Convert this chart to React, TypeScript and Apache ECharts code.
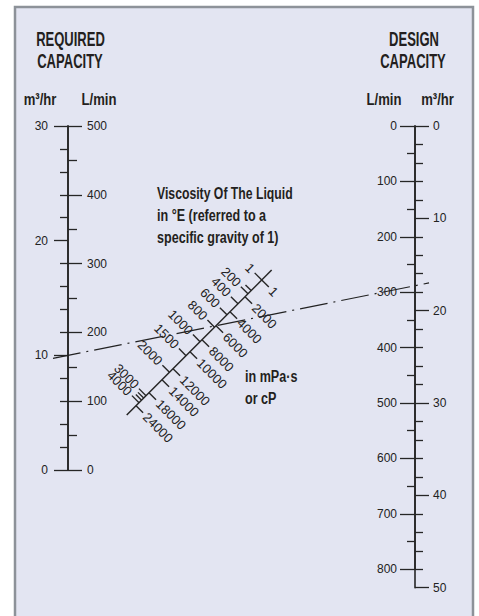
import React, { useEffect, useRef } from "react";
import * as echarts from "echarts";

// ---- data ----
const reqM3Range = [0, 30];
const reqLminRange = [0, 500];
const desM3Range = [0, 50];
const desLminRange = [0, 800];
const reqM3Interval = 10;
const reqLminInterval = 100;
const desM3Interval = 10;
const desLminInterval = 100;

// isopleth reading: required 10 m3/hr -> design ~17.3 m3/hr
const isoRequiredM3 = 10;
const isoDesignM3 = 17.3;

// viscosity scale (positions along the diagonal scale, bottom = 0)
const viscScaleLength = 205;
const degELabels = ["1", "200", "400", "600", "800", "1000", "1500", "2000", "3000", "4000"];
const degEPos = [191, 171.5, 157.4, 141.8, 124.2, 103.7, 83.9, 60.5, 27.3, 17.4];
const degEMinorPos = [176, 21, 24];
const mpasLabels = ["1", "2000", "4000", "6000", "8000", "10000", "12000", "14000", "18000", "24000"];
const mpasPos = [191, 167.3, 146.1, 126.3, 106.5, 89.5, 65.5, 49.9, 31.5, 13.2];

// ---- styles / layout ----
const FONT = "'Liberation Sans', Arial, Helvetica, sans-serif";
const AX = "#262626";
const TXT = "#231f20";
const LEFT_X = 68;
const RIGHT_X = 415;
const TOP_Y = 126;
const LEFT_H = 344;
const RIGHT_H_M3 = 461.7;
const RIGHT_H_L = RIGHT_H_M3 * (desLminRange[1] / (desM3Range[1] * 1000 / 60));
const SCALE_X0 = 126.7;
const SCALE_Y0 = 415;
const UX = Math.SQRT1_2, UY = -Math.SQRT1_2;
const NX = -Math.SQRT1_2, NY = -Math.SQRT1_2;

function along(d: number) {
  return [SCALE_X0 + d * UX, SCALE_Y0 + d * UY];
}

function yAxisCfg(gridIndex: number, range: number[], interval: number, inverse: boolean,
  ticksRight: boolean, majorLen: number, minorLen: number, minorSplit: number, margin: number) {
  return {
    type: "value", gridIndex, position: "left", min: range[0], max: range[1], interval, inverse,
    axisLine: { show: true, onZero: false, lineStyle: { color: AX, width: 1.6 } },
    axisTick: { show: true, inside: ticksRight, length: majorLen, lineStyle: { color: AX, width: 1.3 } },
    minorTick: { show: true, splitNumber: minorSplit, length: minorLen, lineStyle: { color: AX, width: 1.3 } },
    axisLabel: { show: true, inside: ticksRight, margin, color: "#222", fontSize: 12, fontFamily: FONT,
      showMinLabel: true, showMaxLabel: true },
    splitLine: { show: false },
    minorSplitLine: { show: false },
  };
}

function tickSeries(name: string, positions: number[], labels: string[] | null, side: number, tickLen: number) {
  return {
    type: "custom", name, coordinateSystem: "none", silent: true, z: 4,
    data: positions.map((p, i) => [p, i]),
    renderItem: (params: any, api: any) => {
      const d = api.value(0) as number;
      const i = params.dataIndex;
      const [px, py] = along(d);
      const sx = side * NX, sy = side * NY;
      const children: any[] = [
        { type: "line", shape: { x1: px, y1: py, x2: px + sx * tickLen, y2: py + sy * tickLen },
          style: { stroke: AX, lineWidth: 1.4 } },
      ];
      if (labels && labels[i]) {
        children.push({
          type: "text", x: px + sx * (tickLen + 3), y: py + sy * (tickLen + 3), rotation: -Math.PI / 4,
          style: { text: labels[i], align: side > 0 ? "right" : "left", verticalAlign: "middle",
            fill: "#222", fontSize: 13, fontFamily: FONT },
        });
      }
      return { type: "group", children };
    },
  };
}

function hText(id: string, text: string, x: number, y: number, size: number, scaleX: number, align = "center") {
  return {
    type: "text", id, x, y, scaleX, z: 5,
    style: { text, fill: TXT, fontSize: size, fontWeight: "bold", fontFamily: FONT,
      align, verticalAlign: "middle" },
  };
}

export default function App() {
  const ref = useRef<HTMLDivElement>(null);
  useEffect(() => {
    const el = ref.current!;
    const chart = echarts.init(el, undefined, { renderer: "svg" });

    const baseGraphic: any[] = [
      { type: "rect", id: "frame", z: -10, shape: { x: 15, y: 7, width: 458, height: 620 },
        style: { fill: "#e3e5f2", stroke: "#8d9299", lineWidth: 2.5 } },
      hText("h1", "REQUIRED", 70.5, 39, 21, 0.62),
      hText("h2", "CAPACITY", 70, 61, 21, 0.62),
      hText("h3", "DESIGN", 414, 39, 21, 0.62),
      hText("h4", "CAPACITY", 413, 61, 21, 0.62),
      hText("u1", "m³/hr", 40, 98.5, 17, 0.77),
      hText("u2", "L/min", 99, 98.5, 17, 0.77),
      hText("u3", "L/min", 384, 98.5, 17, 0.77),
      hText("u4", "m³/hr", 437.5, 98.5, 17, 0.77),
      hText("v1", "Viscosity Of The Liquid", 157, 193.5, 17, 0.72, "left"),
      hText("v2", "in °E (referred to a", 157, 215, 17, 0.74, "left"),
      hText("v3", "specific gravity of 1)", 157, 236.5, 17, 0.74, "left"),
      hText("m1", "in mPa·s", 245, 376, 17, 0.74, "left"),
      hText("m2", "or cP", 245, 398, 17, 0.74, "left"),
    ];

    const option: any = {
      animation: false,
      backgroundColor: "#ffffff",
      grid: [
        { left: LEFT_X, top: TOP_Y, width: 1, height: LEFT_H, outerBoundsMode: "none" },
        { left: LEFT_X, top: TOP_Y, width: 1, height: LEFT_H, outerBoundsMode: "none" },
        { left: RIGHT_X, top: TOP_Y, width: 1, height: RIGHT_H_M3, outerBoundsMode: "none" },
        { left: RIGHT_X, top: TOP_Y, width: 1, height: RIGHT_H_L, outerBoundsMode: "none" },
      ],
      xAxis: [0, 1, 2, 3].map((g) => ({ type: "value", gridIndex: g, min: 0, max: 1, show: false })),
      yAxis: [
        yAxisCfg(0, reqM3Range, reqM3Interval, false, false, 14, 8, 5, 20),
        yAxisCfg(1, reqLminRange, reqLminInterval, false, true, 14, 9, 2, 19),
        yAxisCfg(2, desM3Range, desM3Interval, true, true, 14, 8, 5, 18),
        yAxisCfg(3, desLminRange, desLminInterval, true, false, 15, 8, 2, 18),
      ],
      graphic: { elements: baseGraphic },
      series: [
        {
          type: "custom", name: "viscosityScale", coordinateSystem: "none", silent: true, z: 4,
          data: [[0, viscScaleLength]],
          renderItem: (_p: any, api: any) => {
            const [x1, y1] = along(api.value(0));
            const [x2, y2] = along(api.value(1));
            return { type: "line", shape: { x1, y1, x2, y2 }, style: { stroke: AX, lineWidth: 1.5 } };
          },
        },
        tickSeries("degE", degEPos, degELabels, 1, 10),
        tickSeries("degEMinor", degEMinorPos, null, 1, 8),
        tickSeries("mpas", mpasPos, mpasLabels, -1, 10),
      ],
    };
    chart.setOption(option);

    // isopleth through the readings on both capacity axes
    const xL = chart.convertToPixel({ xAxisIndex: 0 } as any, 0) as number;
    const yL = chart.convertToPixel({ yAxisIndex: 0 } as any, isoRequiredM3) as number;
    const xR = chart.convertToPixel({ xAxisIndex: 2 } as any, 0) as number;
    const yR = chart.convertToPixel({ yAxisIndex: 2 } as any, isoDesignM3) as number;
    const slope = (yR - yL) / (xR - xL);
    const extL = 15, extR = 14;
    const iso = {
      type: "line", id: "iso", z: 6,
      shape: { x1: xL - extL, y1: yL - slope * extL, x2: xR + extR, y2: yR + slope * extR },
      style: { stroke: "#222", lineWidth: 1.2, lineDash: [28, 6, 2, 6] },
    };
    chart.setOption({ graphic: { elements: [...baseGraphic, iso] } });

    return () => chart.dispose();
  }, []);
  return <div ref={ref} style={{ position: "absolute", left: 0, top: 0, width: 479, height: 616 }} />;
}
